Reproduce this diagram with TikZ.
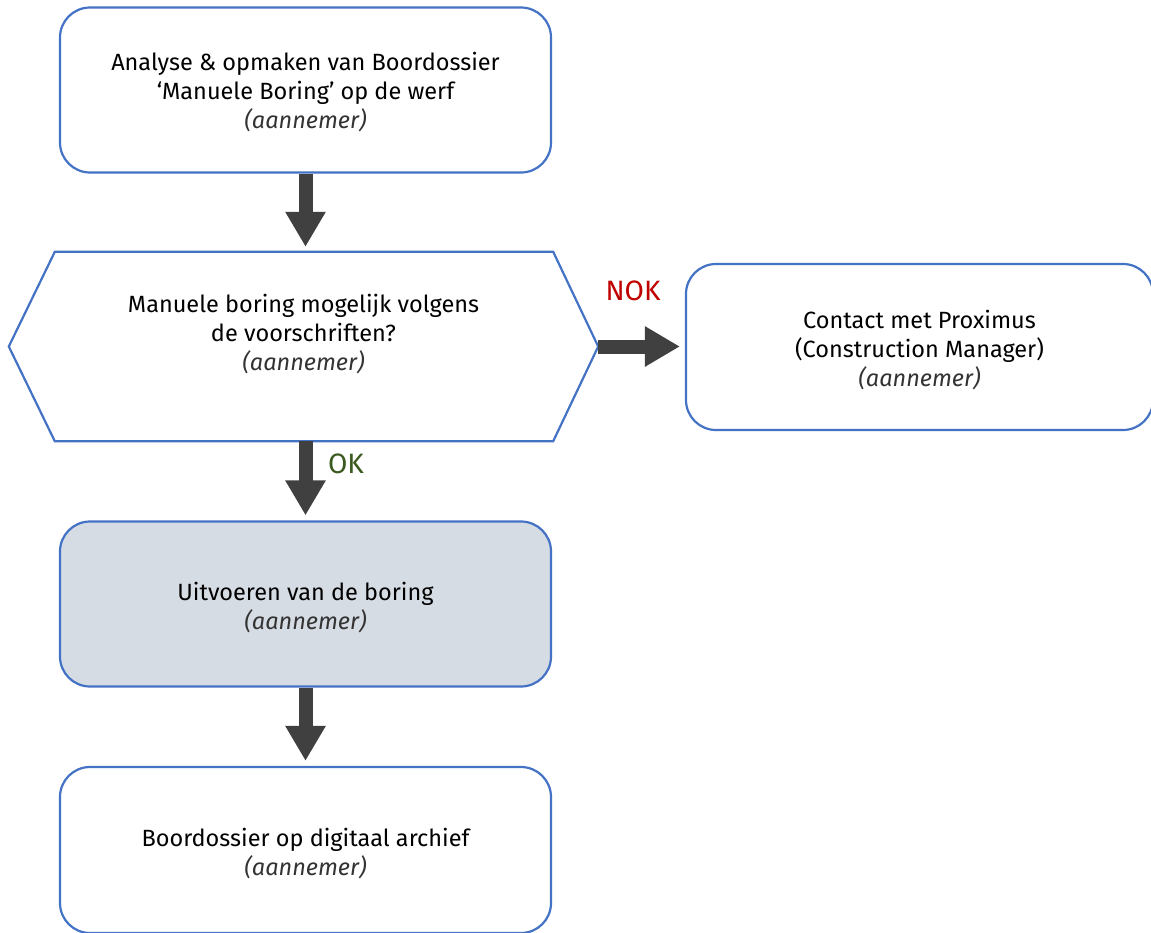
\documentclass[tikz,border=0pt]{standalone}
\usepackage{fontspec}
\setmainfont{Fira Sans}
\usetikzlibrary{arrows.meta,calc}
\definecolor{bblue}{HTML}{4472C4}
\definecolor{adark}{HTML}{404040}
\definecolor{boxfill}{HTML}{D6DCE4}
\definecolor{nokred}{HTML}{C00000}
\definecolor{okgreen}{HTML}{3A5A1F}
\definecolor{rolegray}{HTML}{333333}
\newcommand{\rolelbl}[1]{{\itshape\color{rolegray}#1}}
\begin{document}
\begin{tikzpicture}[x=1pt,y=-1pt,
  box/.style={draw=bblue, line width=2.2pt, rounded corners=30pt,
    inner sep=0pt, minimum width=491pt, minimum height=165pt},
  boxtext/.style={align=center, font=\fontsize{23.5}{29}\selectfont, inner sep=0pt},
  hexnode/.style={align=center, font=\fontsize{23.5}{29}\selectfont, inner sep=0pt,
    minimum width=589pt, minimum height=189pt},
  hexline/.style={draw=bblue, line width=2.2pt, line join=miter},
  conn/.style={draw=adark, line width=14pt, -{Triangle[width=38pt,length=35pt]}, shorten >=5pt},
  decision/.style={font=\fontsize{28}{30}\selectfont}
]
\useasboundingbox (0,0) rectangle (1151,932);
\fill[white] (0,0) rectangle (1151,932);

\node[box] (a) at (305.5,90) {};
\node[boxtext] (at) at ($(a.center)+(0,2)$) {Analyse \& opmaken van Boordossier\\‘Manuele Boring’ op de werf\\\rolelbl{(aannemer)}};

\node[hexnode] (q) at (303.5,346.5) {Manuele boring mogelijk volgens\\de voorschriften?\\\rolelbl{(aannemer)}\\\mbox{}};
\draw[hexline] (q.west) -- ($(q.north west)+(46,0)$) -- ($(q.north east)+(-45,0)$) -- (q.east)
  -- ($(q.south east)+(-45,0)$) -- ($(q.south west)+(46,0)$) -- cycle;

\node[box, minimum width=467pt, minimum height=166pt] (c) at (919.5,347) {};
\node[boxtext] (ct) at ($(c.center)+(0,3)$) {Contact met Proximus\\(Construction Manager)\\\rolelbl{(aannemer)}};

\node[box, fill=boxfill] (u) at (305.5,604) {};
\node[boxtext] (ut) at ($(u.center)+(0,4)$) {Uitvoeren van de boring\\\rolelbl{(aannemer)}};

\node[box, minimum height=166pt] (d) at (305.5,850) {};
\node[boxtext] (dt) at ($(d.center)+(0,4)$) {Boordossier op digitaal archief\\\rolelbl{(aannemer)}};

\draw[conn] (a.south) -- (a.south |- q.north);
\draw[conn] (q.east) -- (c.west |- q.east);
\draw[conn] (q.south -| a.south) -- (u.north);
\draw[conn] (u.south) -- (d.north);

\node[decision, text=nokred] (nok) at (633,291) {NOK};
\node[decision, text=okgreen] (ok) at (346,464) {OK};
\end{tikzpicture}
\end{document}
